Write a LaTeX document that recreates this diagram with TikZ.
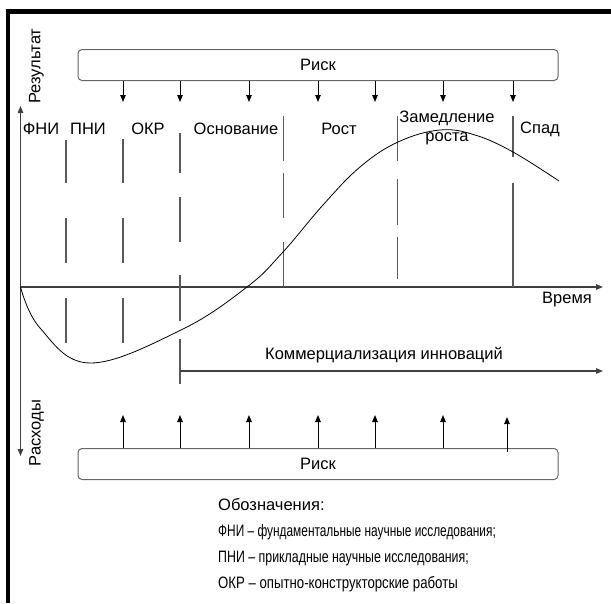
\documentclass[tikz,border=0pt]{standalone}
\usepackage{fontspec}
\setmainfont{Liberation Sans}
\newfontfamily\legfontA[FakeStretch=0.72]{Liberation Sans}
\newfontfamily\legfontB[FakeStretch=0.75]{Liberation Sans}
\newfontfamily\legfontC[FakeStretch=0.80]{Liberation Sans}
\usetikzlibrary{arrows.meta}
\begin{document}
\begin{tikzpicture}[x=1pt,y=-1pt,
  txt/.style={font=\fontsize{16.5}{19}\selectfont, inner sep=0pt},
  legtxt/.style={inner sep=0pt, anchor=base west},
  riskbox/.style={draw=black!60, rounded corners=4pt, line width=1pt, minimum width=480pt, minimum height=31pt, txt},
  riskarrow/.style={-{Triangle[length=7pt,width=5.5pt]}, line width=0.9pt},
  axisline/.style={draw=black!75, line width=1.2pt, -{Triangle[length=7pt,width=5.5pt]}},
  phase/.style={draw=black!65, line width=1.1pt},
  curve/.style={draw=black, line width=0.8pt},
  frame/.style={draw=black, line width=4.5pt}]
\useasboundingbox (0,0) rectangle (611,603);
% frame
\draw[frame] (8,603) -- (8,11.5) -- (611,11.5);
% risk boxes
\node[riskbox] (risktop) at (318,65) {Риск};
\node[riskbox] (riskbot) at (318,464) {Риск};
% top arrows
\foreach \i/\x in {1/123,2/180,3/249,4/318,5/375,6/443,7/513}{
  \coordinate (td\i) at (\x,102);
  \draw[riskarrow] (td\i |- risktop.south) -- (td\i);
}
% bottom arrows
\foreach \i/\x in {1/123,2/180,3/249,4/318,5/375,6/443}{
  \coordinate (bu\i) at (\x,415);
  \draw[riskarrow] (bu\i |- riskbot.north) -- (bu\i);
}
\coordinate (bu7) at (507,417);
\coordinate (bu7s) at (507,452);
\draw[riskarrow] (bu7s) -- (bu7);
% axes
\coordinate (origin) at (20.5,287);
\coordinate (ytop) at (20.5,106);
\coordinate (ybot) at (20.5,456);
\coordinate (xend) at (603,287);
\draw[axisline] (origin) -- (ytop);
\draw[axisline] (origin) -- (ybot);
\draw[axisline] (origin) -- (xend);
% phase dividers
\draw[phase] (66,140) -- (66,183) (66,218) -- (66,263) (66,298) -- (66,343);
\draw[phase] (123,139) -- (123,183) (123,218) -- (123,263) (123,298) -- (123,343);
\draw[phase] (180,133) -- (180,173) (180,197) -- (180,242) (180,275) -- (180,321) (180,339) -- (180,384);
\draw[phase] (283.5,116) -- (283.5,161) (283.5,173) -- (283.5,218) (283.5,242) -- (283.5,287);
\draw[phase] (397.5,116) -- (397.5,161) (397.5,179) -- (397.5,225) (397.5,237) -- (397.5,279);
\draw[phase] (513,116) -- (513,157) (513,183) -- (513,287);
% commercialization arrow
\coordinate (cstart) at (180,371);
\coordinate (cend) at (603,371);
\draw[axisline] (cstart) -- (cend);
\node[txt] (comm) at (384,355) {Коммерциализация инноваций};
% curve
\draw[curve] plot[smooth, tension=0.65] coordinates {(20.5,287) (40,328) (90,363) (181,330) (247,287) (283,252) (323,205) (360,167) (398,142) (440,130) (475,135) (513,152) (559,181)};
% phase labels
\node[txt] (fni) at (41,129) {ФНИ};
\node[txt] (pni) at (88,129) {ПНИ};
\node[txt] (okr) at (148,129) {ОКР};
\node[txt] (osn) at (236,129) {Основание};
\node[txt] (rost) at (339,129) {Рост};
\node[txt] (zam) at (447,118) {Замедление};
\node[txt] (zam2) at (447,139) {роста};
\node[txt] (spad) at (540,129) {Спад};
\node[txt] (vrem) at (567,300) {Время};
% axis labels
\node[txt, rotate=90] (res) at (36.5,66) {Результат};
\node[txt, rotate=90] (ras) at (36.5,433) {Расходы};
% legend
\node[txt, anchor=base west] (leg0) at (218,510) {Обозначения:};
\node[legtxt, font=\legfontA\fontsize{16.5}{19}\selectfont] (leg1) at (218,536) {ФНИ – фундаментальные научные исследования;};
\node[legtxt, font=\legfontB\fontsize{16.5}{19}\selectfont] (leg2) at (218,562) {ПНИ – прикладные научные исследования;};
\node[legtxt, font=\legfontC\fontsize{16.5}{19}\selectfont] (leg3) at (218,588) {ОКР – опытно-конструкторские работы};
\end{tikzpicture}
\end{document}
